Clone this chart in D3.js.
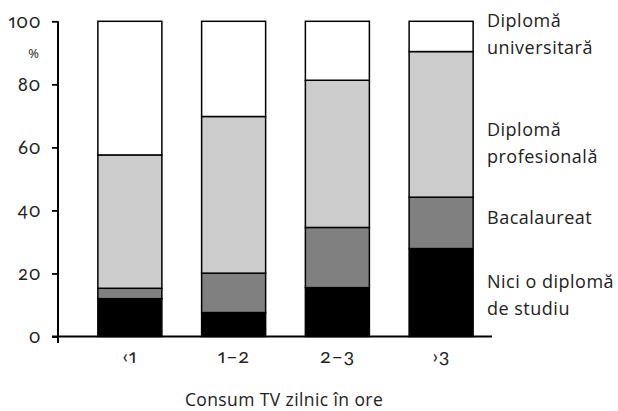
<!DOCTYPE html>
<html>
<head>
<meta charset="utf-8">
<script src="https://cdn.jsdelivr.net/npm/d3@7"></script>
<style>
  html, body { margin: 0; padding: 0; background: #fff; }
  svg { display: block; font-family: "Open Sans", "Noto Sans", sans-serif; }
  .num { font-family: Lato, "Open Sans", sans-serif; font-feature-settings: "onum", "pnum"; font-variant-numeric: oldstyle-nums; }
</style>
</head>
<body>
<svg id="chart" width="618" height="411"></svg>
<script>
// Daily TV hours (categories) and education level shares, in percent
const categories = ["‹1", "1–2", "2–3", "›3"];
const series = ["Nici o diplomă de studiu", "Bacalaureat", "Diplomă profesională", "Diplomă universitară"];
const noDiploma   = [12.0, 7.6, 15.5, 27.9];
const baccalaureate = [3.3, 12.5, 19.1, 16.3];
const professional  = [42.3, 49.7, 46.7, 46.2];
const university    = [42.4, 30.2, 18.7, 9.6];
const yTicks = [0, 20, 40, 60, 80, 100];
const xTitle = "Consum TV zilnic în ore";
const yUnit = "%";

const fills = ["#000000", "#808080", "#cccccc", "#ffffff"];

const rows = categories.map((c, i) => ({
  cat: c,
  s0: noDiploma[i], s1: baccalaureate[i], s2: professional[i], s3: university[i]
}));
const stack = d3.stack().keys(["s0", "s1", "s2", "s3"])(rows);

const svg = d3.select("#chart");
const x = d3.scaleBand().domain(categories).range([78, 493]).paddingInner(0.383).paddingOuter(0.1915);
const y = d3.scaleLinear().domain([0, 100]).range([336.5, 21.3]);

// Stacked bars
svg.append("g").selectAll("g").data(stack).join("g")
  .attr("fill", (d, i) => fills[i])
  .selectAll("rect").data(d => d).join("rect")
  .attr("x", d => x(d.data.cat))
  .attr("width", x.bandwidth())
  .attr("y", d => y(d[1]))
  .attr("height", d => y(d[0]) - y(d[1]))
  .attr("stroke", "#000")
  .attr("stroke-width", 1.5);

// Y axis
const yAxis = svg.append("g").attr("transform", "translate(58,0)")
  .call(d3.axisLeft(y).tickValues(yTicks).tickSize(6).tickPadding(11).tickFormat(d3.format("d")));
yAxis.select(".domain").remove();
yAxis.selectAll(".tick line").attr("stroke", "#000").attr("stroke-width", 1.8);
yAxis.selectAll(".tick text").attr("class", "num").attr("font-size", 18.5).attr("fill", "#222")
  .attr("font-family", null).attr("letter-spacing", 0.6);
svg.append("line").attr("x1", 58).attr("x2", 58).attr("y1", y(100)).attr("y2", y(0) + 6.5)
  .attr("stroke", "#000").attr("stroke-width", 2);
svg.append("text").attr("x", 39).attr("y", 58).attr("text-anchor", "end")
  .attr("font-size", 13).attr("fill", "#222").text(yUnit);

// X axis
const xAxis = svg.append("g").attr("transform", `translate(0,${y(0)})`)
  .call(d3.axisBottom(x).tickSize(0).tickPadding(12));
xAxis.select(".domain").remove();
xAxis.selectAll(".tick text").attr("class", "num").attr("font-size", 20).attr("fill", "#222")
  .attr("font-family", null).attr("letter-spacing", 0.6);
svg.append("line").attr("x1", 52).attr("x2", 492).attr("y1", y(0)).attr("y2", y(0))
  .attr("stroke", "#000").attr("stroke-width", 2);

svg.append("text").attr("x", 284).attr("y", 406).attr("text-anchor", "middle")
  .attr("font-size", 17.5).attr("letter-spacing", 0.4).attr("fill", "#222").text(xTitle);

// Series labels on the right, top to bottom
const labelLines = [
  { lines: ["Diplomă", "universitară"], top: 27 },
  { lines: ["Diplomă", "profesională"], top: 136 },
  { lines: ["Bacalaureat"], top: 224 },
  { lines: ["Nici o diplomă", "de studiu"], top: 288 }
];
const lg = svg.append("g").attr("font-size", 18).attr("letter-spacing", 0.5).attr("fill", "#222");
labelLines.forEach(l => {
  const t = lg.append("text").attr("x", 487).attr("y", l.top);
  l.lines.forEach((ln, j) => t.append("tspan").attr("x", 487).attr("dy", j === 0 ? 0 : 26.5).text(ln));
});
</script>
</body>
</html>
